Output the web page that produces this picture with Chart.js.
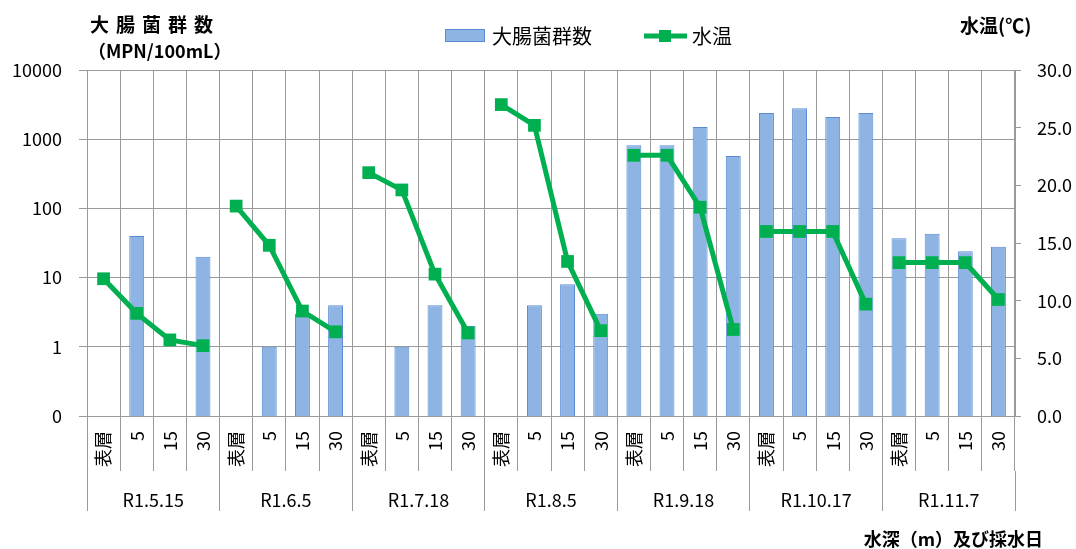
<!DOCTYPE html>
<html>
<head>
<meta charset="utf-8">
<script src="https://cdn.jsdelivr.net/npm/chart.js@4"></script>
<style>
  html, body { margin: 0; padding: 0; background: #fff; }
  #wrap { width: 1076px; height: 549px; }
</style>
</head>
<body>
<div id="wrap"><canvas id="chart" width="1076" height="549"></canvas></div>
<script>
(function(){
  'use strict';

  // sampling dates and depths (m)
  const dates = ['R1.5.15', 'R1.6.5', 'R1.7.18', 'R1.8.5', 'R1.9.18', 'R1.10.17', 'R1.11.7'];
  const depths = ['表層', '5', '15', '30'];

  // coliform count (MPN/100mL), null = no bar
  const coliform = [
    null, 40, null, 20,
    null, 1, 3, 4,
    null, 1, 4, 2,
    null, 4, 8, 3,
    820, 820, 1500, 570,
    2400, 2800, 2100, 2400,
    37, 43, 24, 28
  ];

  // water temperature (°C)
  const waterTemp = [
    11.9, 8.9, 6.6, 6.1,
    18.2, 14.8, 9.1, 7.3,
    21.1, 19.6, 12.3, 7.2,
    27.0, 25.2, 13.4, 7.4,
    22.6, 22.6, 18.1, 7.5,
    16.0, 16.0, 16.0, 9.7,
    13.3, 13.3, 13.3, 10.1
  ];

  const yTickValues = [0.1, 1, 10, 100, 1000, 10000];
  const yTickLabels = ['0', '1', '10', '100', '1000', '10000'];

  const categories = dates.flatMap(() => depths);

  const FONT = "'Noto Sans CJK JP', 'Noto Sans', sans-serif";
  const gridColor = '#9a9a9a';
  const barFill = '#8eb4e3';
  const barBorder = '#5b8ad4';
  const green = '#00b050';

  Chart.defaults.font.family = FONT;
  Chart.defaults.font.size = 18;
  Chart.defaults.color = '#000';

  // headers, axis titles and legend
  const decor = {
    id: 'decor',
    afterDraw(chart) {
      const ctx = chart.ctx;
      const ds = chart.data.datasets;
      ctx.save();
      ctx.fillStyle = '#000';
      ctx.textBaseline = 'middle';
      ctx.textAlign = 'left';

      ctx.font = 'bold 19px ' + FONT;
      ctx.letterSpacing = '7px';
      ctx.fillText('大腸菌群数', 90, 25);
      ctx.letterSpacing = '0px';
      ctx.font = 'bold 18px ' + FONT;
      ctx.fillText('（MPN/100mL）', 88, 51);

      ctx.font = 'bold 19px ' + FONT;
      ctx.fillText('水温(℃)', 960, 26);

      ctx.textAlign = 'right';
      ctx.font = 'bold 18px ' + FONT;
      ctx.fillText('水深（m）及び採水日', 1043, 539);

      // legend
      ctx.textAlign = 'left';
      ctx.font = '20px ' + FONT;
      ctx.fillStyle = barFill;
      ctx.fillRect(445, 29, 40, 13);
      ctx.strokeStyle = barBorder;
      ctx.lineWidth = 1;
      ctx.strokeRect(445.5, 29.5, 39, 12);
      ctx.fillStyle = '#000';
      ctx.fillText(ds[0].label, 492, 36);

      ctx.strokeStyle = green;
      ctx.lineWidth = 5;
      ctx.beginPath();
      ctx.moveTo(644, 36);
      ctx.lineTo(687, 36);
      ctx.stroke();
      ctx.fillStyle = green;
      ctx.fillRect(659, 30, 12, 12);
      ctx.fillStyle = '#000';
      ctx.fillText(ds[1].label, 692, 36);
      ctx.restore();
    }
  };

  let canvas = document.getElementById('chart');

  let chart = new Chart(canvas, {
    data: {
      labels: categories,
      datasets: [
        {
          type: 'bar',
          label: '大腸菌群数',
          data: coliform,
          yAxisID: 'y',
          xAxisID: 'x',
          backgroundColor: barFill,
          borderColor: barBorder,
          borderWidth: 1,
          barPercentage: 0.45,
          categoryPercentage: 1,
          order: 2
        },
        {
          type: 'line',
          label: '水温',
          data: waterTemp,
          yAxisID: 'y1',
          xAxisID: 'x',
          borderColor: green,
          backgroundColor: green,
          borderWidth: 5,
          pointStyle: 'rect',
          pointRadius: 9,
          pointBorderWidth: 0,
          tension: 0,
          order: 1,
          // no line between sampling dates
          segment: {
            borderColor: c => (c.p0DataIndex % depths.length === depths.length - 1) ? 'rgba(0,0,0,0)' : undefined
          }
        }
      ]
    },
    options: {
      responsive: false,
      animation: false,
      layout: { padding: { top: 70, bottom: 38, left: 0, right: 0 } },
      plugins: {
        legend: { display: false },
        tooltip: { enabled: false }
      },
      scales: {
        x: {
          type: 'category',
          position: 'bottom',
          offset: true,
          grid: { offset: true, color: gridColor, tickLength: 55 },
          border: { color: gridColor },
          ticks: { autoSkip: false, minRotation: 90, maxRotation: 90, padding: -40, font: { size: 18 } },
          afterFit: s => { s.height = 55; }
        },
        x2: {
          type: 'category',
          position: 'bottom',
          labels: dates,
          offset: true,
          grid: { offset: true, drawOnChartArea: false, color: gridColor, tickLength: 40 },
          border: { display: false },
          ticks: { autoSkip: false, maxRotation: 0, padding: -21.8, font: { size: 18 } },
          afterFit: s => { s.height = 40; }
        },
        y: {
          type: 'logarithmic',
          position: 'left',
          min: 0.1,
          max: 10000,
          grid: { color: gridColor, tickLength: 8 },
          border: { color: gridColor },
          afterBuildTicks: s => { s.ticks = yTickValues.map(v => ({ value: v })); },
          ticks: { padding: 17, font: { size: 18 }, callback: (v, i) => yTickLabels[i] },
          afterFit: s => { s.width = 87; }
        },
        y1: {
          type: 'linear',
          position: 'right',
          min: 0,
          max: 30,
          grid: { drawOnChartArea: false, color: gridColor, tickLength: 6 },
          border: { color: gridColor },
          ticks: { stepSize: 5, padding: 16, font: { size: 18 }, callback: v => v.toFixed(1) },
          afterFit: s => { s.width = 61; }
        }
      }
    },
    plugins: [decor]
  });

})();
</script>
</body>
</html>
